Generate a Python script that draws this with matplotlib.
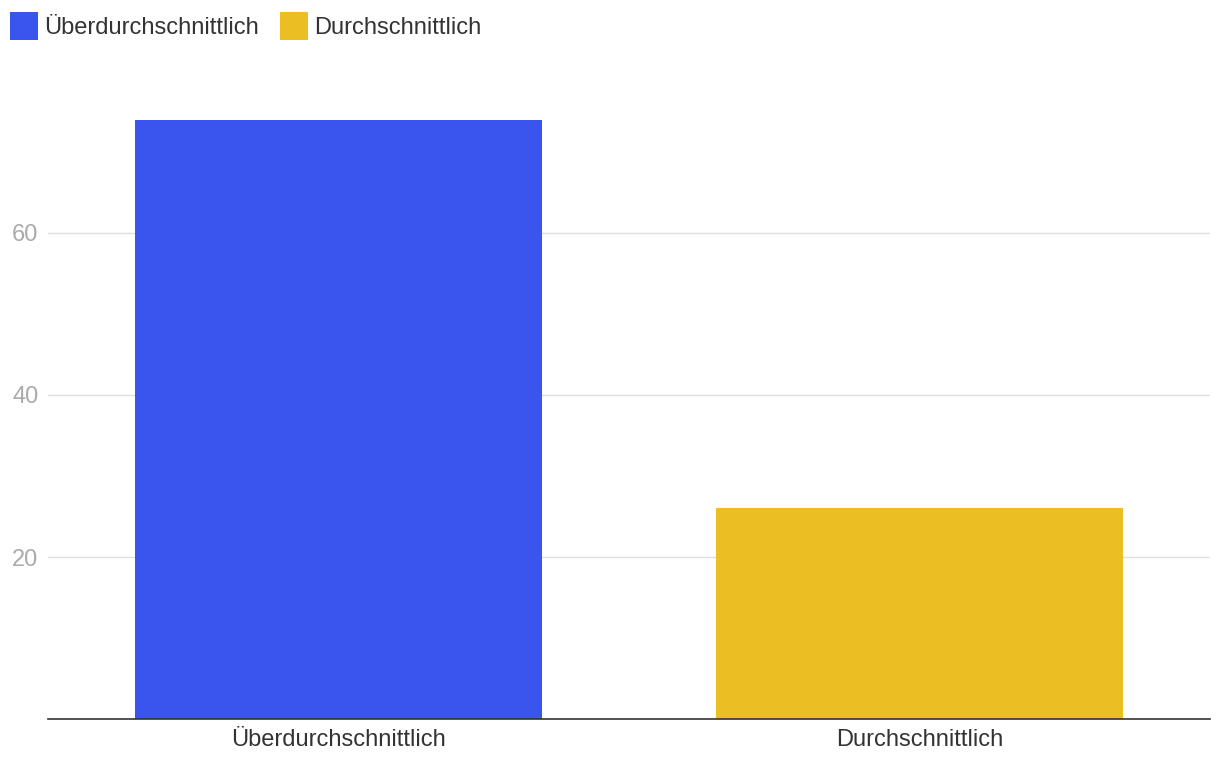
import matplotlib.pyplot as plt
from matplotlib.patches import Patch

categories = ['Überdurchschnittlich', 'Durchschnittlich']
values = [74, 26]
colors = ['#3a55ee', '#ebbe23']
yticks = [20, 40, 60]

plt.rcParams['font.family'] = ['Liberation Sans', 'DejaVu Sans']

fig = plt.figure(figsize=(12.2, 7.7), dpi=100)
ax = fig.add_axes([48 / 1220, 51 / 770, 1162 / 1220, 616 / 770])

x = range(len(categories))
ax.bar(x, values, width=0.7, color=colors, zorder=3)
ax.set_xlim(-0.5, len(categories) - 0.5)
ax.set_ylim(0, 616 / 8.1)

ax.set_yticks(yticks)
ax.set_xticks(list(x))
ax.set_xticklabels(categories, fontsize=17, color='#333333')
ax.tick_params(axis='y', length=0, labelsize=17, labelcolor='#aaaaaa', pad=7)
ax.tick_params(axis='x', length=0, pad=7)
ax.grid(axis='y', color='#e0e0e0', linewidth=1, zorder=0)

for side in ['top', 'right', 'left']:
    ax.spines[side].set_visible(False)
ax.spines['bottom'].set_color('#333333')
ax.spines['bottom'].set_linewidth(1.2)
ax.spines['bottom'].set_zorder(4)

handles = [Patch(facecolor=c, edgecolor='none') for c in colors]
fig.legend(handles, categories, loc='upper left', bbox_to_anchor=(10 / 1220, 1 - 12 / 770),
           ncol=2, frameon=False, fontsize=17, handlelength=1.19, handleheight=1.454,
           handletextpad=0.25, columnspacing=0.9, borderaxespad=0, borderpad=0,
           labelcolor='#333333')

fig.savefig('out.png', dpi=100)
